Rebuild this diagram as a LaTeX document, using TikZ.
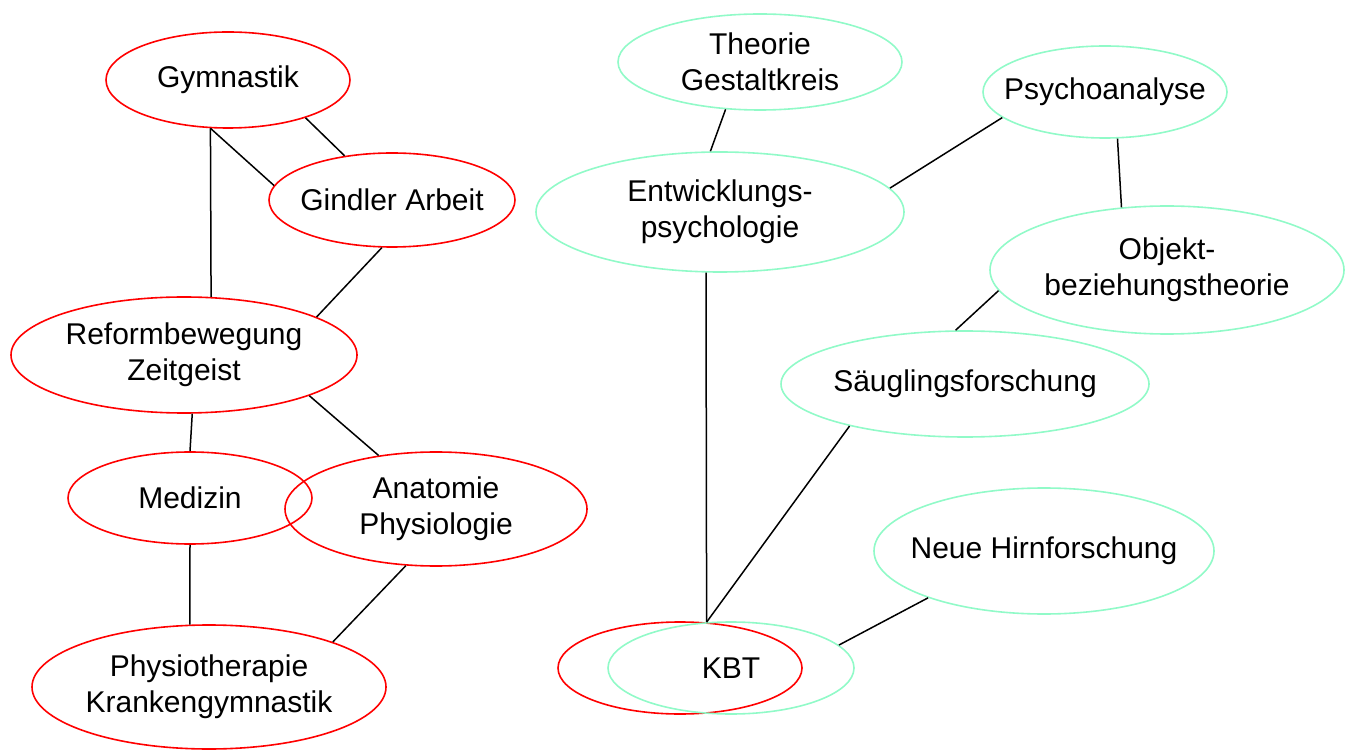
\documentclass[tikz,border=0pt]{standalone}
\usepackage{fontspec}
\setmainfont{Liberation Sans}
\usepackage{tikz}
\usetikzlibrary{shapes, positioning}

\definecolor{mint}{RGB}{145,250,200}

\begin{document}
\begin{tikzpicture}[x=0.5pt, y=-0.5pt]
    % Styles
    \tikzstyle{redell} = [ellipse, draw=red, line width=0.8pt, inner sep=0pt, align=center, font=\fontsize{15}{18}\selectfont]
    \tikzstyle{greenell} = [ellipse, draw=mint, line width=0.8pt, inner sep=0pt, align=center, font=\fontsize{15}{18}\selectfont]
    \tikzstyle{link} = [draw, line width=0.75pt, black]

    \useasboundingbox (0,0) rectangle (1354,753);

    % Nodes: left side
    \node [redell, minimum width=122pt, minimum height=48pt] (gym) at (228,80) {Gymnastik};
    \node [redell, minimum width=123pt, minimum height=47pt, inner xsep=-2.5pt] (gind) at (392,200) {Gindler Arbeit};
    \node [redell, minimum width=173pt, minimum height=58pt] (ref) at (184,355) {Reformbewegung\\Zeitgeist};
    \node [redell, minimum width=122pt, minimum height=46pt] (med) at (190,498) {Medizin};
    \node [redell, minimum width=151pt, minimum height=57pt] (anat) at (436,509) {Anatomie\\Physiologie};
    \node [redell, minimum width=177pt, minimum height=62pt] (phys) at (209,687) {Physiotherapie\\Krankengymnastik};

    % Nodes: right side
    \node [redell, minimum width=122pt, minimum height=46pt] (kbtred) at (680,668) {};
    \node [greenell, minimum width=123pt, minimum height=46pt] (kbt) at (731,668) {KBT};
    \node [greenell, minimum width=142pt, minimum height=48pt] (theo) at (760,62) {Theorie\\Gestaltkreis};
    \node [greenell, minimum width=122pt, minimum height=46pt, inner xsep=-7.5pt] (psy) at (1105,92) {Psychoanalyse};
    \node [greenell, minimum width=184pt, minimum height=60pt] (entw) at (720,212) {Entwicklungs-\\psychologie};
    \node [greenell, minimum width=177pt, minimum height=64pt] (obj) at (1167,270) {Objekt-\\beziehungstheorie};
    \node [greenell, minimum width=184pt, minimum height=53pt, inner xsep=-1pt] (saug) at (965,384) {Säuglingsforschung};
    \node [greenell, minimum width=170pt, minimum height=63pt, inner xsep=-6.8pt] (neue) at (1044,551) {Neue Hirnforschung};

    % Paths: left side
    \draw [link] (gym.250) -- (ref.65);
    \draw [link] (gym.250) -- (gind.173);
    \draw [link] (gym.334) -- (gind.137);
    \draw [link] (gind.258) -- (ref.16);
    \draw [link] (ref.278) -- (med.north);
    \draw [link] (ref.342) -- (anat.137);
    \draw [link] (med.south) -- (phys.107);
    \draw [link] (anat.242) -- (phys.20);

    % Paths: right side
    \draw [link] (theo.234) -- (entw.99);
    \draw [link] (psy.194) -- (entw.8);
    \draw [link] (psy.285) -- (obj.126);
    \draw [link] (obj.187) -- (saug.100);
    \draw [link] (entw.257) -- (kbt.118);
    \draw [link] (saug.200) -- (kbt.118);
    \draw [link] (neue.202) -- (kbt.12);

\end{tikzpicture}
\end{document}
